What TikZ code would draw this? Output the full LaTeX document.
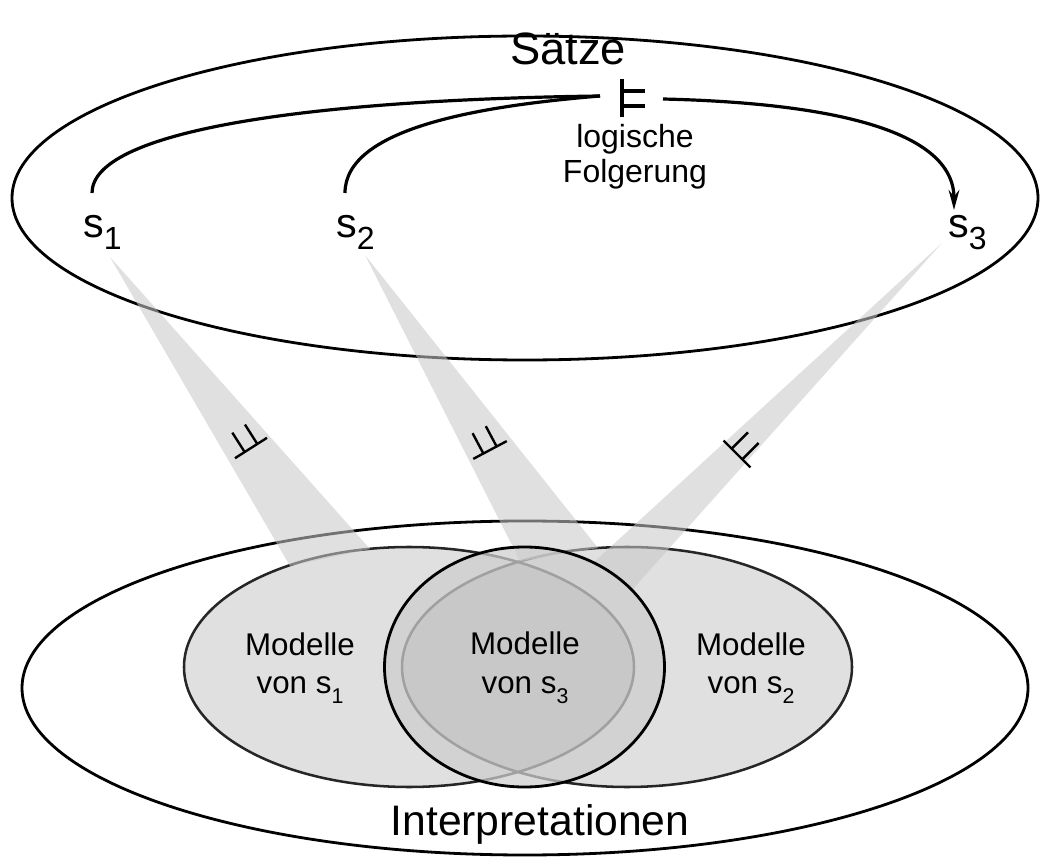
\documentclass[tikz,border=0pt]{standalone}
\usepackage{fontspec}
\setmainfont{Liberation Sans}
\usepackage{tikz}
\usetikzlibrary{arrows.meta}

\definecolor{modfill}{RGB}{224,224,224}
\definecolor{lensfill}{RGB}{184,184,184}
\definecolor{beamfill}{RGB}{200,200,200}
\definecolor{sthreefill}{RGB}{206,206,206}

% lowered index in text, e.g. s_1
\newcommand{\lowix}[3]{\raisebox{-#1}{\fontsize{#2}{#2}\selectfont #3}}

\tikzset{
  ringline/.style={draw=black, line width=2.1pt},
  modline/.style={draw=black!85, line width=1.9pt},
  beam/.style={fill=beamfill, fill opacity=0.57},
  arcline/.style={line width=2.4pt},
  mtext/.style={font=\fontsize{23.5}{29}\selectfont, align=center, inner sep=0pt},
  pics/entails/.style={code={
    \draw[line width=#1] (0,-19) -- (0,19) (0,-7.5) -- (23,-7.5) (0,7.5) -- (23,7.5);}}
}

\begin{document}
\begin{tikzpicture}[x=0.75pt,y=0.75pt,yscale=-1,xscale=1]
\useasboundingbox (0,0) rectangle (1040,859);

%Shape: Ellipse (Saetze)
\draw[ringline] (525,198) ellipse [x radius=513, y radius=162];
%Shape: Ellipse (Interpretationen)
\draw[ringline] (525,688) ellipse [x radius=503, y radius=167];

%Shape: Ellipse (Modelle von s1 / s2)
\fill[modfill] (409,667) ellipse [x radius=225, y radius=120];
\fill[modfill] (627,667) ellipse [x radius=225, y radius=120];
\begin{scope}
  \clip (409,667) ellipse [x radius=225, y radius=120];
  \fill[lensfill] (627,667) ellipse [x radius=225, y radius=120];
\end{scope}
\draw[modline] (409,667) ellipse [x radius=225, y radius=120];
\draw[modline] (627,667) ellipse [x radius=225, y radius=120];

% Beams from the sentences down to their models
\coordinate (b1) at (110,257);
\coordinate (b2) at (365,255);
\coordinate (b3) at (942,243);
\fill[beam] (b1) -- (290,566) -- (370,549) -- cycle;
\fill[beam] (b2) -- (520,561) -- (598,548) -- cycle;
\fill[beam] (b3) -- (593,563) -- (632,590) -- cycle;

%Shape: Ellipse (Modelle von s3)
\draw[ringline, fill=sthreefill, fill opacity=0.728] (524.5,667) ellipse [x radius=140, y radius=120];

% models symbols
\pic at (622,98.5) {entails=2.3pt};
\pic[rotate=122.5] at (251,448) {entails=1.8pt};
\pic[rotate=118] at (490,450) {entails=1.8pt};
\pic[rotate=45] at (737,454) {entails=1.8pt};

% Text Node
\node[font=\fontsize{34}{40}\selectfont, anchor=base] (saetze) at (568,65) {Sätze};
% Text Node
\node[font=\fontsize{32}{38}\selectfont, anchor=base] (interp) at (540,835) {Interpretationen};
% Text Node
\node[font=\fontsize{24}{26.25}\selectfont, align=center, inner sep=0pt] (folg) at (635,157) {logische\\Folgerung};

% Text Node
\node[font=\fontsize{31}{37}\selectfont, anchor=base west, inner sep=0pt] (s1) at (83,238) {s\lowix{9pt}{24}{1}};
\node[font=\fontsize{31}{37}\selectfont, anchor=base west, inner sep=0pt] (s2) at (336,238) {s\lowix{9pt}{24}{2}};
\node[font=\fontsize{31}{37}\selectfont, anchor=base west, inner sep=0pt] (s3) at (948,238) {s\lowix{9pt}{24}{3}};

% Text Node
\node[mtext] (m1) at (300,668) {Modelle\\von s\lowix{7.5pt}{16}{1}};
\node[mtext] (m3) at (525,668) {Modelle\\von s\lowix{7.5pt}{16}{3}};
\node[mtext] (m2) at (751,668) {Modelle\\von s\lowix{7.5pt}{16}{2}};

%Curve Lines (logische Folgerung)
\coordinate (a1) at (92,193);
\coordinate (a2) at (345,193);
\coordinate (a3) at (954,210);
\coordinate (fl) at (600,96);
\coordinate (fr) at (663,99);
\draw[arcline] (a1) .. controls (92,132) and (300,100) .. (fl);
\draw[arcline] (a2) .. controls (345,128) and (480,106) .. (fl);
\draw[arcline, -{Stealth[length=15pt,width=8pt]}] (fr) .. controls (830,103) and (954,130) .. (a3);

\end{tikzpicture}
\end{document}
